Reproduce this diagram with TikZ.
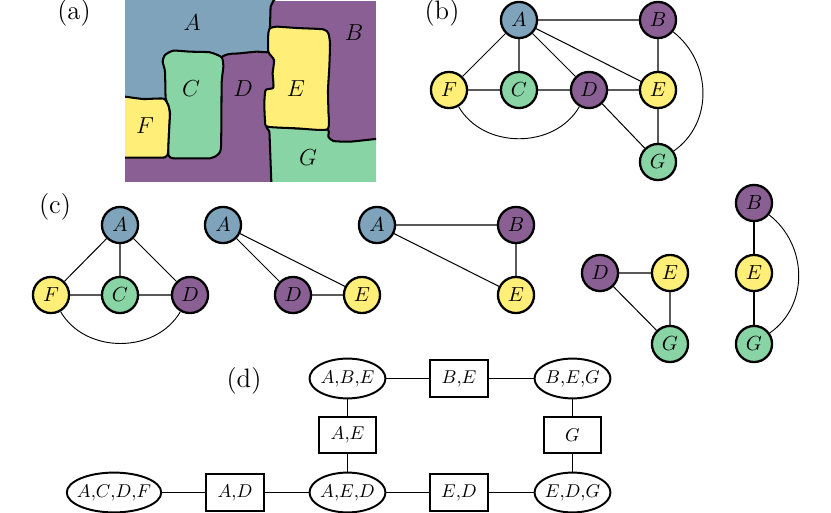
\documentclass[tikz,border=0pt]{standalone}
\usepackage{fix-cm}
\usepackage{fontspec}
\usetikzlibrary{shapes.geometric}
\definecolor{cA}{HTML}{7EA3BA}
\definecolor{cP}{HTML}{8A6094}
\definecolor{cY}{HTML}{FFEE78}
\definecolor{cG}{HTML}{89D4A5}
\tikzset{
  vx/.style={circle,draw=black,line width=1.25pt,minimum size=19.5pt,inner sep=0pt,text=black,font=\fontsize{11}{13}\selectfont},
  blue/.style={vx,fill=cA},
  purple/.style={vx,fill=cP},
  yellow/.style={vx,fill=cY},
  green/.style={vx,fill=cG},
  edge/.style={line width=0.55pt},
  arc/.style={line width=0.5pt},
  clique/.style={ellipse,draw=black,line width=1.05pt,inner xsep=-2pt,inner ysep=0pt,minimum height=21.5pt},
  sep/.style={rectangle,draw=black,line width=1.05pt,inner sep=0pt,minimum width=31pt,minimum height=19.5pt},
  tag/.style={font=\fontsize{14.4}{17}\selectfont,inner sep=0pt},
  region/.style={font=\fontsize{12.5}{15}\selectfont,inner sep=0pt},
  outline/.style={draw=black,line width=1.1pt,line join=round}
}
\begin{document}
\begin{tikzpicture}[x=0.54pt,y=-0.54pt]
\useasboundingbox (0,0) rectangle (831,513);

% region map
\begin{scope}
\clip (125,1) rectangle (376,182);
\fill[cP] (125,1) rectangle (376,182);
\begin{scope}[shift={(110,0)},x=0.18pt,y=-0.18pt]
  \draw[outline,fill=cA,smooth] plot[smooth cycle,tension=0.35] coordinates
    {(20,-30) (490,-30) (490,3) (482,20) (480,80) (476,110) (475,155) (440,155) (390,160) (340,168) (250,250) (120,350) (20,290)};
  \draw[outline,fill=cY] plot[smooth cycle,tension=0.35] coordinates
    {(20,288) (45,290) (100,297) (160,296) (175,315) (180,340) (177,400) (175,455) (165,472) (100,473) (45,473) (20,473)};
  \draw[outline,fill=cG] plot[smooth cycle,tension=0.35] coordinates
    {(165,165) (190,152) (240,155) (300,157) (335,172) (340,200) (335,250) (333,440) (322,465) (300,475) (240,475) (190,475) (175,465) (177,400) (180,340) (175,315) (167,295) (165,215) (158,185)};
  \draw[outline,fill=cG] plot[smooth cycle,tension=0.35] coordinates
    {(472,380) (560,385) (652,388) (655,410) (670,423) (720,425) (797,417) (830,415) (830,580) (486,580) (484,545) (480,440) (478,395)};
  \draw[outline,fill=cY] plot[smooth cycle,tension=0.35] coordinates
    {(480,85) (500,80) (560,84) (640,88) (655,100) (660,130) (658,200) (654,270) (655,330) (652,388) (560,385) (472,380) (465,360) (463,310) (467,270) (490,263) (488,220) (492,180) (475,155) (475,100)};
\end{scope}
\end{scope}
\node[region] (mA) at (192,23) {$A$};
\node[region] (mB) at (354,33) {$B$};
\node[region] (mC) at (191,89) {$C$};
\node[region] (mD) at (243,89) {$D$};
\node[region] (mE) at (296,89) {$E$};
\node[region] (mF) at (145,126) {$F$};
\node[region] (mG) at (308,158) {$G$};

% panel letters
\node[tag] (la) at (74,13) {(a)};
\node[tag] (lb) at (442,13) {(b)};
\node[tag] (lc) at (55,207) {(c)};
\node[tag] (ld) at (244,381) {(d)};

% full interaction graph
\node[blue] (bA) at (519,20) {$A$};
\node[purple] (bB) at (658,20) {$B$};
\node[yellow] (bF) at (449,90) {$F$};
\node[green] (bC) at (519,90) {$C$};
\node[purple] (bD) at (589,90) {$D$};
\node[yellow] (bE) at (658,90) {$E$};
\node[green] (bG) at (658,162) {$G$};
\draw[edge] (bA)--(bB) (bA)--(bF) (bA)--(bC) (bA)--(bD) (bA)--(bE)
  (bB)--(bE) (bF)--(bC) (bC)--(bD) (bD)--(bE) (bE)--(bG) (bD)--(bG);
\draw[arc] (bF) to[out=-60,in=-120,looseness=1.05] (bD);
\draw[arc] (bB) to[out=-38,in=35,looseness=1.05] (bG);

% maximal cliques
\node[blue] (c1A) at (120,225) {$A$};
\node[yellow] (c1F) at (51,295) {$F$};
\node[green] (c1C) at (120,295) {$C$};
\node[purple] (c1D) at (190,295) {$D$};
\draw[edge] (c1A)--(c1F) (c1A)--(c1C) (c1A)--(c1D) (c1F)--(c1C) (c1C)--(c1D);
\draw[arc] (c1F) to[out=-60,in=-120,looseness=1.05] (c1D);

\node[blue] (c2A) at (223,225) {$A$};
\node[purple] (c2D) at (293,295) {$D$};
\node[yellow] (c2E) at (362,295) {$E$};
\draw[edge] (c2A)--(c2D) (c2A)--(c2E) (c2D)--(c2E);

\node[blue] (c3A) at (377,225) {$A$};
\node[purple] (c3B) at (516,225) {$B$};
\node[yellow] (c3E) at (516,295) {$E$};
\draw[edge] (c3A)--(c3B) (c3A)--(c3E) (c3B)--(c3E);

\node[purple] (c4D) at (600,273) {$D$};
\node[yellow] (c4E) at (670,273) {$E$};
\node[green] (c4G) at (670,344) {$G$};
\draw[edge] (c4D)--(c4E) (c4D)--(c4G) (c4E)--(c4G);

\node[purple] (c5B) at (754,203) {$B$};
\node[yellow] (c5E) at (754,273) {$E$};
\node[green] (c5G) at (754,344) {$G$};
\draw[edge] (c5B)--(c5E) (c5E)--(c5G);
\draw[arc] (c5B) to[out=-38,in=35,looseness=1.05] (c5G);

% junction tree
\node[clique,minimum width=41pt] (ABE) at (347.5,378.5) {$A{,}B{,}E$};
\node[sep] (BE) at (459,378.5) {$B{,}E$};
\node[clique,minimum width=41pt] (BEG) at (572.5,378.5) {$B{,}E{,}G$};
\node[sep] (AE) at (347.5,435) {$A{,}E$};
\node[sep] (Gs) at (572.5,435) {$G$};
\node[clique,minimum width=50pt] (ACDF) at (114,492.5) {$A{,}C{,}D{,}F$};
\node[sep] (AD) at (235,492.5) {$A{,}D$};
\node[clique,minimum width=41pt] (AED) at (347.5,492.5) {$A{,}E{,}D$};
\node[sep] (ED) at (459,492.5) {$E{,}D$};
\node[clique,minimum width=41pt] (EDG) at (572.5,492.5) {$E{,}D{,}G$};
\draw[edge] (ABE)--(BE) (BE)--(BEG) (ABE)--(AE) (AE)--(AED) (BEG)--(Gs) (Gs)--(EDG)
  (ACDF)--(AD) (AD)--(AED) (AED)--(ED) (ED)--(EDG);
\end{tikzpicture}
\end{document}
